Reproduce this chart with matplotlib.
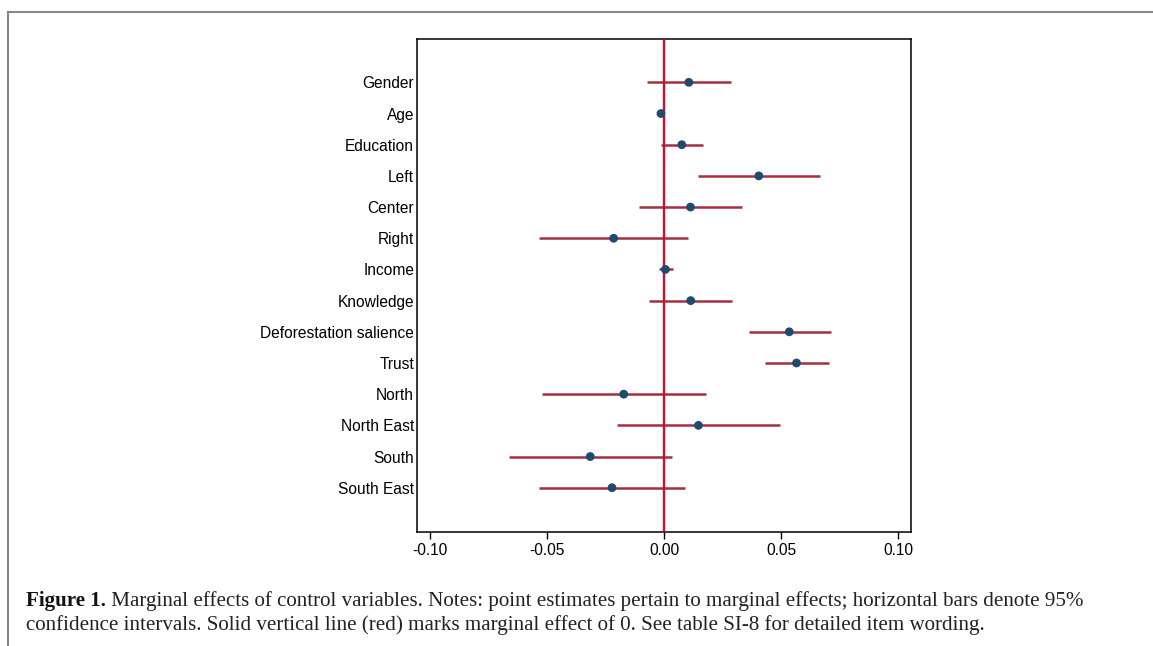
import numpy as np
import matplotlib
matplotlib.use('agg')
import matplotlib.pyplot as plt
from matplotlib.lines import Line2D

# Marginal effects and 95% CIs
labels = ["Gender", "Age", "Education", "Left", "Center", "Right", "Income",
          "Knowledge", "Deforestation salience", "Trust", "North", "North East",
          "South", "South East"]
estimates = [0.0106, -0.0013, 0.0076, 0.0405, 0.0113, -0.0215, 0.0006,
             0.0114, 0.0535, 0.0566, -0.0172, 0.0147, -0.0315, -0.0222]
ci_low = [-0.0073, -0.0018, -0.0013, 0.0147, -0.0106, -0.0533, -0.0021,
          -0.0063, 0.0361, 0.0431, -0.0523, -0.0200, -0.0663, -0.0533]
ci_high = [0.0285, -0.0008, 0.0165, 0.0667, 0.0332, 0.0103, 0.0037,
           0.0291, 0.0713, 0.0704, 0.0180, 0.0495, 0.0034, 0.0088]
xticks = [-0.10, -0.05, 0.00, 0.05, 0.10]

navy = '#1f4a72'
bar_col = '#a23040'
zero_col = '#c8102e'

fig = plt.figure(figsize=(11.53, 6.46), dpi=100)
ax = fig.add_axes([417/1153, 1 - 532/646, (911-417)/1153, (532-39)/646])

ypos = np.arange(len(labels))
ax.hlines(ypos, ci_low, ci_high, color=bar_col, lw=1.8, zorder=2)
ax.axvline(0, color=zero_col, lw=1.7, zorder=3)
ax.scatter(estimates, ypos, s=40, color=navy, zorder=4, edgecolors='none')

ax.set_xlim(-0.1055, 0.1055)
ax.set_ylim(len(labels) - 1 + 1.42, -1.39)
ax.set_yticks(ypos)
ax.set_yticklabels(labels, fontsize=11.2, family='Liberation Sans')
ax.tick_params(axis='y', length=0, pad=2)
ax.set_xticks(xticks)
ax.set_xticklabels(["%.2f" % v for v in xticks], fontsize=11.2, family='Liberation Sans')
ax.tick_params(axis='x', length=5, width=1, pad=3)
for sp in ax.spines.values():
    sp.set_linewidth(1.1)

# outer frame of the figure panel (top and left edges)
fig.add_artist(Line2D([8/1153, 1], [1 - 12/646, 1 - 12/646], color='#888888', lw=1.5,
                      transform=fig.transFigure))
fig.add_artist(Line2D([8/1153, 8/1153], [0, 1 - 12/646], color='#888888', lw=1.5,
                      transform=fig.transFigure))

# caption
cap1 = " Marginal effects of control variables. Notes: point estimates pertain to marginal effects; horizontal bars denote 95%"
cap2 = "confidence intervals. Solid vertical line (red) marks marginal effect of 0. See table SI-8 for detailed item wording."
cap_size = 15.1
bold = fig.text(26/1153, 1 - 606/646, "Figure 1.", fontsize=cap_size, family='Liberation Serif',
                weight='bold', va='baseline', ha='left', color='#111111')
fig.canvas.draw()
bb = bold.get_window_extent()
fig.text(bb.x1 / fig.bbox.width, 1 - 606/646, cap1, fontsize=cap_size,
         family='Liberation Serif', va='baseline', ha='left', color='#222222')
fig.text(26/1153, 1 - 630/646, cap2, fontsize=cap_size, family='Liberation Serif',
         va='baseline', ha='left', color='#222222')

fig.savefig("out.png", dpi=100)
